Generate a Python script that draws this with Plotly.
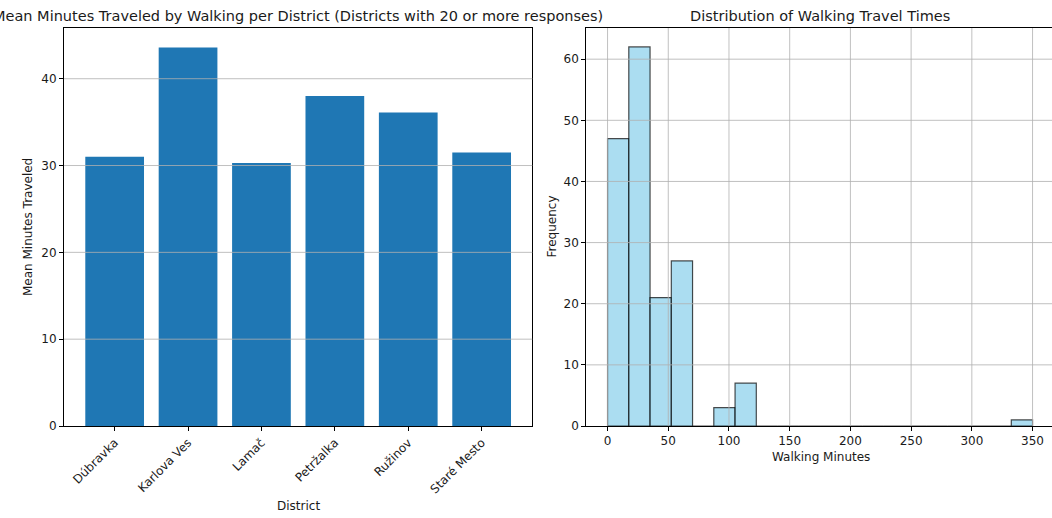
import numpy as np
import plotly.graph_objects as go

# Mean walking minutes per district (districts with >= 20 responses)
districts = ["Dúbravka", "Karlova Ves", "Lamač", "Petržalka", "Ružinov", "Staré Mesto"]
mean_minutes = [31.0, 43.6, 30.3, 38.0, 36.1, 31.5]

# Histogram of walking travel times: 20 equal bins over 0..350 minutes
hist_min, hist_max, hist_bins = 0, 350, 20
hist_counts = [47, 62, 21, 27, 0, 3, 7, 0, 0, 0, 0, 0, 0, 0, 0, 0, 0, 0, 0, 1]

left_yticks = [0, 10, 20, 30, 40]
right_yticks = [0, 10, 20, 30, 40, 50, 60]
right_xticks = [0, 50, 100, 150, 200, 250, 300, 350]

W, H = 1052, 518
FONT = "DejaVu Sans"
GRID = "#b0b0b0"
TXT = "#1a1a1a"


def px_x(v):
    return v / W


def px_y(v):
    return 1 - v / H


edges = np.linspace(hist_min, hist_max, hist_bins + 1)
centers = (edges[:-1] + edges[1:]) / 2
bin_w = edges[1] - edges[0]

fig = go.Figure()

fig.add_trace(go.Bar(
    x=districts, y=mean_minutes, marker=dict(color="#1f77b4", line=dict(width=0)),
    width=0.8, xaxis="x", yaxis="y", showlegend=False,
))

fig.add_trace(go.Bar(
    x=centers, y=hist_counts, width=bin_w,
    marker=dict(color="rgba(135,206,235,0.7)", line=dict(color="rgba(0,0,0,0.7)", width=1.2)),
    xaxis="x2", yaxis="y2", showlegend=False,
))

# Plot areas (the histogram panel runs slightly past the right edge of the canvas)
left_dom = [px_x(64), px_x(532.3)]
right_dom = [px_x(586.3), 1.0]
y_dom = [px_y(426), px_y(28)]
hist_px_per_min = (1033.3 - 608.3) / 350
hist_xmax = (W - 586.3) / hist_px_per_min - 17.5

tick_common = dict(
    ticks="outside", ticklen=4, tickcolor="black", tickwidth=1,
    tickfont=dict(family=FONT, size=12, color=TXT),
    zeroline=False, automargin=False, showgrid=False,
    showline=True, linecolor="black", linewidth=1,
)

fig.update_layout(
    width=W, height=H,
    margin=dict(l=0, r=0, t=0, b=0, autoexpand=False),
    paper_bgcolor="white", plot_bgcolor="white",
    font=dict(family=FONT, color=TXT),
    xaxis=dict(domain=left_dom, anchor="y", range=[-0.69, 5.69],
               tickangle=-45, mirror=True, **tick_common),
    yaxis=dict(domain=y_dom, anchor="x", range=[0, 45.84],
               tickvals=left_yticks, mirror=True, **tick_common),
    xaxis2=dict(domain=right_dom, anchor="y2", range=[-17.5, hist_xmax],
                tickvals=right_xticks, mirror=True, **tick_common),
    yaxis2=dict(domain=y_dom, anchor="x2", range=[0, 65.1],
                tickvals=right_yticks, mirror=False, **tick_common),
)

# Grid lines drawn over the bars
shapes = []
for t in left_yticks[1:]:
    shapes.append(dict(type="line", xref="x domain", yref="y", x0=0, x1=1, y0=t, y1=t,
                       line=dict(color=GRID, width=0.8), layer="above"))
for t in right_yticks[1:]:
    shapes.append(dict(type="line", xref="x2 domain", yref="y2", x0=0, x1=1, y0=t, y1=t,
                       line=dict(color=GRID, width=0.8), layer="above"))
for t in right_xticks:
    shapes.append(dict(type="line", xref="x2", yref="y2 domain", x0=t, x1=t, y0=0, y1=1,
                       line=dict(color=GRID, width=0.8), layer="above"))
fig.update_layout(shapes=shapes)

annots = [
    dict(text="Mean Minutes Traveled by Walking per District (Districts with 20 or more responses)",
         x=px_x(298.2), y=px_y(16), font=dict(size=14.5)),
    dict(text="Distribution of Walking Travel Times", x=px_x(820.3), y=px_y(16), font=dict(size=14.5)),
    dict(text="Mean Minutes Traveled", x=px_x(28), y=px_y(227), textangle=-90, font=dict(size=12)),
    dict(text="Frequency", x=px_x(551.5), y=px_y(227), textangle=-90, font=dict(size=12)),
    dict(text="District", x=px_x(298.2), y=px_y(506), font=dict(size=12)),
    dict(text="Walking Minutes", x=px_x(820.5), y=px_y(456.5), font=dict(size=12)),
]
for a in annots:
    a.update(xref="paper", yref="paper", xanchor="center", yanchor="middle", showarrow=False)
    a["font"].update(family=FONT, color=TXT)
fig.update_layout(annotations=annots)

fig.write_html("out.html")
